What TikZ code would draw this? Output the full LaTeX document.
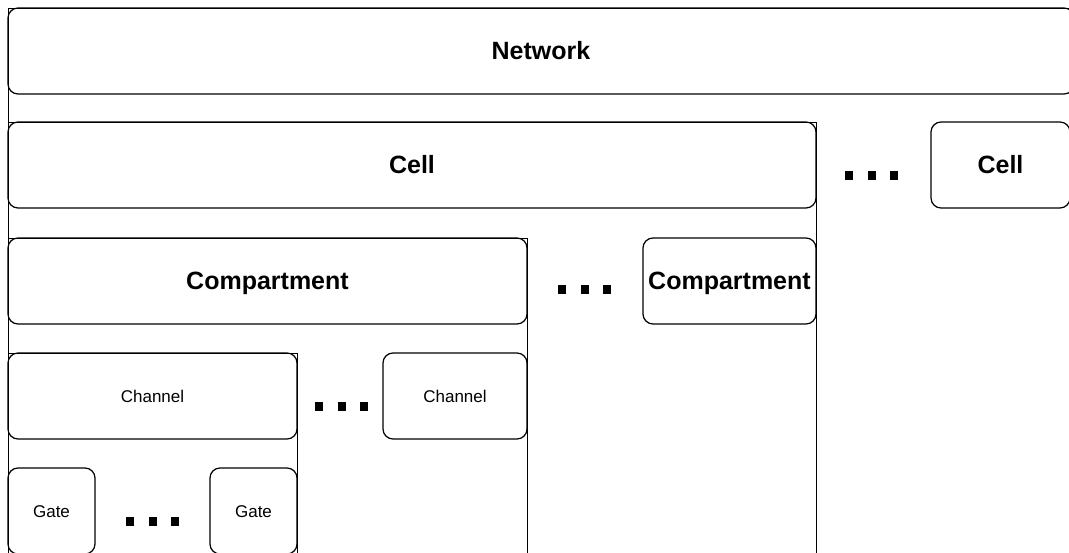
\documentclass[tikz,border=0pt]{standalone}
\usepackage{fontspec}
\setmainfont{Liberation Sans}
\usetikzlibrary{positioning}

\begin{document}
\begin{tikzpicture}[x=1pt,y=-1pt]
		\tikzset{
			box/.style={draw,line width=1.2pt,rounded corners=10pt,anchor=north west,inner sep=0pt,outer sep=0pt,minimum height=86pt},
		}
		\tikzset{
			frame/.style={draw,line width=0.8pt,anchor=north west,inner sep=0pt,outer sep=0pt,minimum height=700pt},
			bigtext/.style={font=\fontsize{25}{30}\selectfont\bfseries,text height=18pt,text depth=0pt},
			smalltext/.style={font=\fontsize{17}{20}\selectfont,text height=12.2pt,text depth=0pt},
			dot/.style={fill=black,inner sep=0pt,minimum width=8pt,minimum height=9pt},
		}
		\newcommand{\dx}{22.5}
		
		\useasboundingbox (0,0) rectangle (1069,553);
		\clip (0,0) rectangle (1069,553);
		
		% containers, open towards the bottom
		\node[frame,minimum width=1090pt] (networkframe) at (8,8) {};
		\node[frame,minimum width=808pt] (cellframe) at (8,122) {};
		\node[frame,minimum width=519pt] (compframe) at (8,238) {};
		\node[frame,minimum width=289pt] (chanframe) at (8,353) {};
		
		\node[box,bigtext,minimum width=1066pt] (network) at (8,8) {Network};
		
		\node[box,bigtext,minimum width=808pt] (cell) at (8,122) {Cell};
		\node[box,bigtext,minimum width=139pt] (cellB) at (931,122) {Cell};
		
		\node[box,bigtext,minimum width=519pt] (comp) at (8,238) {Compartment};
		\node[box,bigtext,minimum width=173pt] (compB) at (643,238) {Compartment};
		
		\node[box,smalltext,minimum width=289pt] (chan) at (8,353) {Channel};
		\node[box,smalltext,minimum width=144pt] (chanB) at (383,353) {Channel};
		
		\node[box,smalltext,minimum width=87pt] (gate) at (8,468) {Gate};
		\node[box,smalltext,minimum width=87pt] (gateB) at (210,468) {Gate};
		
		% ellipsis squares
		\foreach \x/\y in {849/176,562/290,319/407,130/521}
			\foreach \i in {0,1,2}
				\node[dot] (dot\y\i) at (\x+\dx*\i,\y) {};
	\end{tikzpicture}
\end{document}
